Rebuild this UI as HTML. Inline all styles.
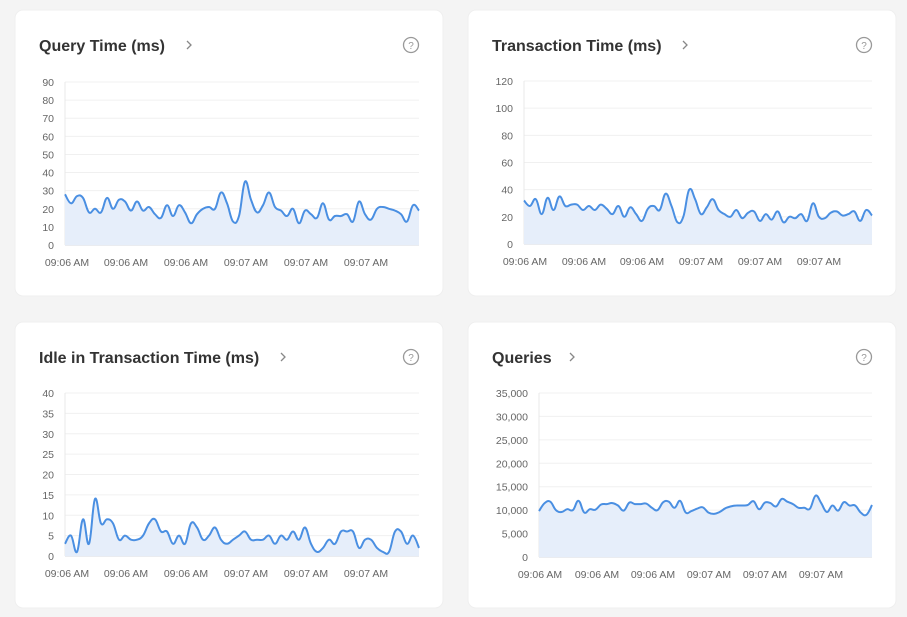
<!DOCTYPE html>
<html><head><meta charset="utf-8"><style>
html,body{margin:0;padding:0;background:#f4f4f4;width:907px;height:617px;overflow:hidden;font-family:"Liberation Sans",sans-serif}
</style></head><body>
<svg id="s" width="907" height="617" xmlns="http://www.w3.org/2000/svg" font-family="Liberation Sans, sans-serif"></svg>
<script>
const S=document.getElementById('s');let h='';
const charts=[
{cx:15,cy:10,title:'Query Time (ms)',tw:130,l:65,r:419,t:82,b:245,max:90,step:10,fmt:v=>v,
 xl:[67,126,186,246,306,366],
 d:[28,23,27,26,18,20,18,26,20,25,24,19,24,19,21,17,15,22,16,22,18,12,17,20,21,20,29,23,13,16,35,25,18,22,29,21,19,16,20,12,19,17,15,23,14,16,16,17,13,24,17,14,20,21,20,19,17,13,22,19]},
{cx:468,cy:10,title:'Transaction Time (ms)',tw:173,l:524,r:872,t:81,b:244,max:120,step:20,fmt:v=>v,
 xl:[525,584,642,701,760,819],
 d:[32,28,33,22,34,25,35,28,29,29,25,28,25,29,26,22,28,20,27,22,17,26,28,25,37,28,16,20,40,33,22,27,33,25,22,20,25,19,23,24,17,22,18,24,16,20,19,22,17,30,20,19,23,24,21,22,24,17,25,21]},
{cx:15,cy:322,title:'Idle in Transaction Time (ms)',tw:224,l:65,r:419,t:393,b:556,max:40,step:5,fmt:v=>v,
 xl:[67,126,186,246,306,366],
 d:[3,5,1,9,3,14,8,9,8,4,5,4,4,5,8,9,6,6,3,5,3,8,7,4,5,7,4,3,4,5,6,4,4,4,5,3,5,4,6,4,7,3,1,2,4,3,6,6,6,2,4,4,2,1,1,6,6,3,5,2]},
{cx:468,cy:322,title:'Queries',tw:60,l:539,r:872,t:393,b:557,max:35000,step:5000,fmt:v=>v.toLocaleString('en-US'),
 xl:[540,597,653,709,765,821],
 d:[9.8,11.5,11.8,10,9.6,10.2,10,12,9.5,10.2,10.1,11.2,11.3,11.5,11,9.9,11.6,11.3,11.3,11.4,10.5,10,11.7,11.8,10.5,12,9.5,9.8,10.3,10.6,9.5,9.2,9.6,10.4,10.8,11,11,11.1,11.9,10.2,11.6,11.5,10.8,12.4,11.8,11.3,10.5,10.5,10.3,13.1,11.5,9.6,11,9.9,11.7,11,11,9.5,9,11.1].map(v=>v*1000)}
];
function smooth(p){let s='M'+p[0][0]+','+p[0][1];for(let i=0;i<p.length-1;i++){const p0=p[i-1]||p[i],p1=p[i],p2=p[i+1],p3=p[i+2]||p2;const t=0.2;
s+=` C${(p1[0]+(p2[0]-p0[0])*t).toFixed(1)},${(p1[1]+(p2[1]-p0[1])*t).toFixed(1)} ${(p2[0]-(p3[0]-p1[0])*t).toFixed(1)},${(p2[1]-(p3[1]-p1[1])*t).toFixed(1)} ${p2[0]},${p2[1].toFixed(1)}`;}return s;}
for(const c of charts){
 h+=`<rect x="${c.cx}" y="${c.cy}" width="428" height="286" rx="8" fill="#fff" stroke="#efefef"/>`;
 h+=`<text x="${c.cx+24}" y="${c.cy+41}" font-size="16" font-weight="bold" fill="#333">${c.title}</text>`;
 const ax=c.cx+24+c.tw+20;
 h+=`<path d="M${ax-2},${c.cy+31} l4,4 l-4,4" fill="none" stroke="#888" stroke-width="1.3"/>`;
 h+=`<circle cx="${c.cx+396}" cy="${c.cy+35}" r="7.5" fill="none" stroke="#999" stroke-width="1.3"/><text x="${c.cx+396}" y="${c.cy+39}" font-size="10" text-anchor="middle" fill="#999">?</text>`;
 const n=c.max/c.step;
 for(let i=0;i<=n;i++){const y=c.b-(c.b-c.t)*i/n;
  h+=`<line x1="${c.l}" x2="${c.r}" y1="${y}" y2="${y}" stroke="${i==0?'#d4d8e0':'#f0f0f0'}"/>`;
  h+=`<text x="${c.l-11}" y="${y+4}" font-size="10.5" text-anchor="end" fill="#666">${c.fmt(c.step*i)}</text>`;}
 h+=`<line x1="${c.l}" x2="${c.l}" y1="${c.t}" y2="${c.b}" stroke="#e8e8e8"/>`;
 for(let i=0;i<c.xl.length;i++)h+=`<text x="${c.xl[i]}" y="${c.b+21}" font-size="10.5" text-anchor="middle" fill="#666">${i<3?'09:06 AM':'09:07 AM'}</text>`;
 const pts=c.d.map((v,i)=>[+(c.l+(c.r-c.l)*i/(c.d.length-1)).toFixed(1),c.b-(c.b-c.t)*v/c.max]);
 const p=smooth(pts);
 h+=`<path d="${p} L${c.r},${c.b} L${c.l},${c.b}Z" fill="#e6eefa"/>`;
 h+=`<path d="${p}" fill="none" stroke="#4a8fe2" stroke-width="2"/>`;
}
S.innerHTML=h;
</script>
</body></html>
